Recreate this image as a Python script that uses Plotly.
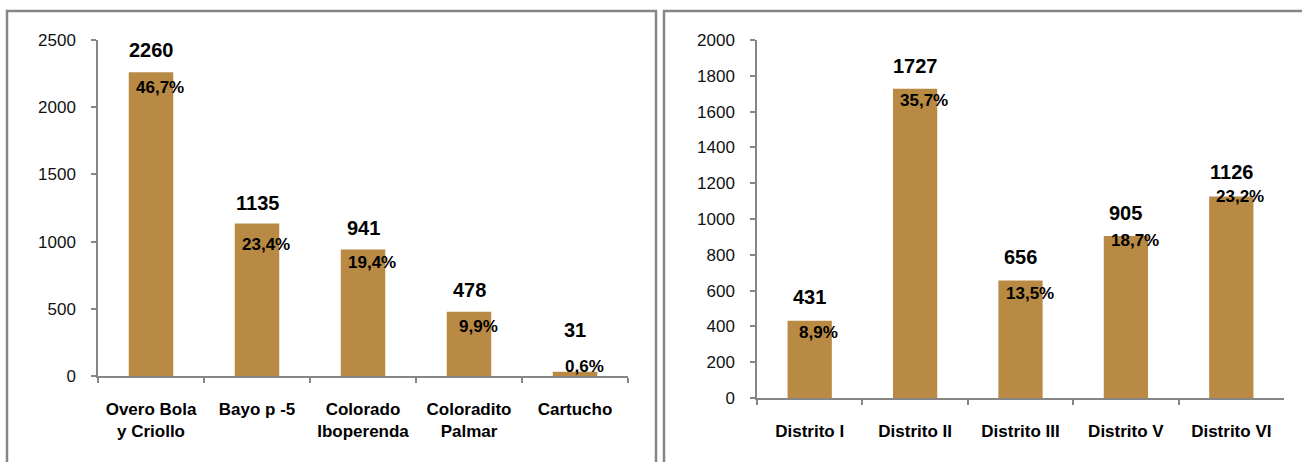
import plotly.graph_objects as go

# ---- data ----
variedades = ["Overo Bola<br>y Criollo", "Bayo p -5", "Colorado<br>Iboperenda",
              "Coloradito<br>Palmar", "Cartucho"]
valores_var = [2260, 1135, 941, 478, 31]
pct_var = ["46,7%", "23,4%", "19,4%", "9,9%", "0,6%"]

distritos = ["Distrito I", "Distrito II", "Distrito III", "Distrito V", "Distrito VI"]
valores_dist = [431, 1727, 656, 905, 1126]
pct_dist = ["8,9%", "35,7%", "13,5%", "18,7%", "23,2%"]

# ---- label placement tweaks (pixels) ----
pct_dy_var = [-15, -21, -13, -15, 5]
val_dy_var = [22, 20, 22, 22, 42]
pct_dy_dist = [-12, -12, -13, -4, 0]
val_dy_dist = [24, 23, 24, 23, 24]

FONT = "Arial, Liberation Sans, sans-serif"
BAR = "#B88A44"
AX = "#868686"

W, H = 1302, 462

def px_x(x):
    return x / W

def px_y(y):
    return 1 - y / H

fig = go.Figure()
fig.add_trace(go.Bar(x=variedades, y=valores_var, marker=dict(color=BAR, line=dict(width=0)),
                     xaxis="x", yaxis="y", showlegend=False, hoverinfo="x+y"))
fig.add_trace(go.Bar(x=distritos, y=valores_dist, marker=dict(color=BAR, line=dict(width=0)),
                     xaxis="x2", yaxis="y2", showlegend=False, hoverinfo="x+y"))

annotations = []
for cats, vals, pcts, pdy, vdy, xr, yr in [
    (variedades, valores_var, pct_var, pct_dy_var, val_dy_var, "x", "y"),
    (distritos, valores_dist, pct_dist, pct_dy_dist, val_dy_dist, "x2", "y2"),
]:
    for c, v, p, d1, d2 in zip(cats, vals, pcts, pdy, vdy):
        annotations.append(dict(x=c, y=v, xref=xr, yref=yr, text=f"<b>{v}</b>",
                                showarrow=False, xanchor="center", yanchor="middle",
                                yshift=d2, font=dict(family=FONT, size=20, color="#000")))
        annotations.append(dict(x=c, y=v, xref=xr, yref=yr, text=f"<b>{p}</b>",
                                showarrow=False, xanchor="center", yanchor="middle",
                                xshift=9, yshift=d1, font=dict(family=FONT, size=17, color="#000")))

shapes = [
    dict(type="rect", xref="paper", yref="paper", x0=px_x(7), x1=px_x(656),
         y0=-0.1, y1=px_y(11), line=dict(color=AX, width=2.5)),
    dict(type="rect", xref="paper", yref="paper", x0=px_x(664), x1=1.1,
         y0=-0.1, y1=px_y(11), line=dict(color=AX, width=2.5)),
]

xcommon = dict(type="category", showline=True, linecolor=AX, linewidth=1.5,
               ticks="outside", tickson="boundaries", ticklen=5, tickcolor=AX,
               tickwidth=1.5, showgrid=False, zeroline=False,
               tickfont=dict(family=FONT, size=17, color="#000", weight="bold"),
               ticklabelstandoff=17)
ycommon = dict(showline=True, linecolor=AX, linewidth=1.5, ticks="outside", ticklen=5,
               tickcolor=AX, tickwidth=1.5, showgrid=False, zeroline=False,
               tickfont=dict(family=FONT, size=17, color="#111"), ticklabelstandoff=12)

fig.update_layout(
    width=W, height=H,
    margin=dict(l=0, r=0, t=0, b=0),
    paper_bgcolor="white", plot_bgcolor="white",
    bargap=0.58,
    xaxis=dict(domain=[px_x(98), px_x(628)], anchor="y", automargin=False, **xcommon),
    yaxis=dict(domain=[px_y(376), px_y(40)], range=[0, 2500], dtick=500, anchor="x",
               automargin=False, **ycommon),
    xaxis2=dict(domain=[px_x(757), px_x(1284)], anchor="y2", automargin=False, **xcommon),
    yaxis2=dict(domain=[px_y(398), px_y(40)], range=[0, 2000], dtick=200, anchor="x2",
                automargin=False, **ycommon),
    annotations=annotations,
    shapes=shapes,
    font=dict(family=FONT),
)

fig.write_html("out.html", config={"displayModeBar": False},
               post_script="document.body.style.margin='0';document.body.style.overflow='hidden';")
